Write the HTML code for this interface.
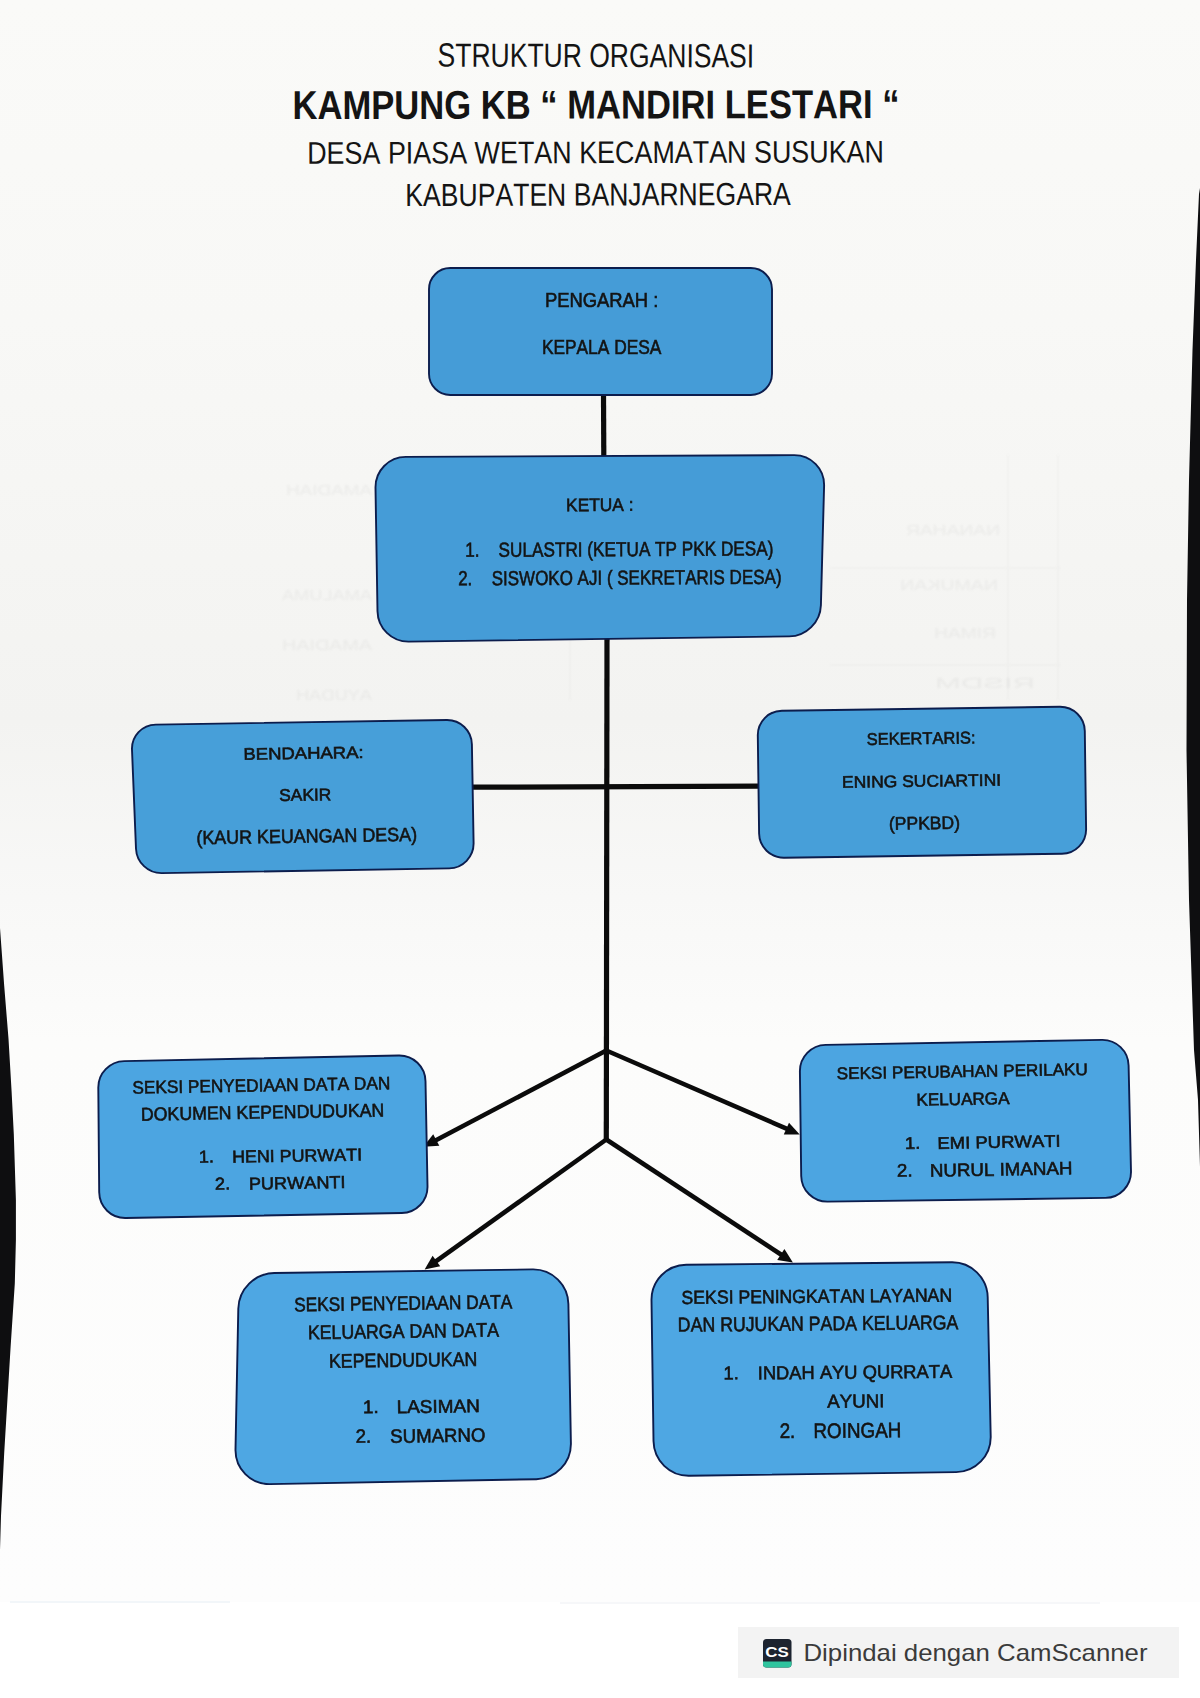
<!DOCTYPE html>
<html><head><meta charset="utf-8"><title>Struktur Organisasi</title>
<style>
html,body{margin:0;padding:0;background:#ffffff;}
body{width:1200px;height:1698px;overflow:hidden;position:relative;font-family:"Liberation Sans",sans-serif;}
svg{position:absolute;left:0;top:0;}
text{font-family:"Liberation Sans",sans-serif;fill:#141414;font-kerning:none;}
.bx{stroke:#141414;stroke-width:0.6px;}
</style></head><body>
<svg width="1200" height="1698" viewBox="0 0 1200 1698">
<defs><filter id="gb" x="-0.1" y="-0.3" width="1.2" height="1.6"><feGaussianBlur stdDeviation="0.9"/></filter><linearGradient id="pg" x1="0" y1="0" x2="0" y2="1602" gradientUnits="userSpaceOnUse">
<stop offset="0" stop-color="#fafaf8"/><stop offset="0.2" stop-color="#f8f8f6"/><stop offset="0.45" stop-color="#f3f3f1"/>
<stop offset="0.56" stop-color="#f8f8f7"/><stop offset="0.65" stop-color="#fcfcfb"/><stop offset="1" stop-color="#fdfdfd"/></linearGradient></defs>
<rect x="0" y="0" width="1200" height="1602" fill="url(#pg)"/>
<polygon points="1200.0,188.0 1199.0,194.0 1196.0,260.0 1192.5,350.0 1189.0,480.0 1187.0,600.0 1186.5,750.0 1189.0,900.0 1194.0,1050.0 1198.0,1100.0 1200.0,1167.0 1200.0,1167.0 1200.0,188.0" fill="#0e0e10"/>
<polygon points="0.0,928.0 4.2,985.8 8.5,1038.7 11.6,1091.6 13.8,1134.0 15.9,1200.0 15.9,1240.0 14.8,1283.5 10.6,1347.0 7.4,1400.0 4.2,1453.0 1.0,1516.0 0.0,1550.0 0.0,1550.0 0.0,928.0" fill="#0e0e10"/>
<g opacity="0.2" filter="url(#gb)" fill="#c4c4c2" font-size="15" style="font-family:'Liberation Sans',sans-serif">
<text x="-1000" y="535" transform="scale(-1,1)" textLength="94" lengthAdjust="spacingAndGlyphs" style="fill:#c4c4c2">NANAHAR</text>
<text x="-998" y="590" transform="scale(-1,1)" textLength="98" lengthAdjust="spacingAndGlyphs" style="fill:#c4c4c2">NAMUKAN</text>
<text x="-996" y="638" transform="scale(-1,1)" textLength="62" lengthAdjust="spacingAndGlyphs" style="fill:#c4c4c2">RIMAH</text>
<text x="-1035" y="688" transform="scale(-1,1)" textLength="100" lengthAdjust="spacingAndGlyphs" style="fill:#c4c4c2">RISDM</text>
<text x="-372" y="495" transform="scale(-1,1)" textLength="86" lengthAdjust="spacingAndGlyphs" style="fill:#c4c4c2">AMADIAH</text>
<text x="-372" y="600" transform="scale(-1,1)" textLength="90" lengthAdjust="spacingAndGlyphs" style="fill:#c4c4c2">AMALUMA</text>
<text x="-372" y="650" transform="scale(-1,1)" textLength="90" lengthAdjust="spacingAndGlyphs" style="fill:#c4c4c2">AMADIAH</text>
<text x="-372" y="700" transform="scale(-1,1)" textLength="76" lengthAdjust="spacingAndGlyphs" style="fill:#c4c4c2">AYUDAH</text>
</g>
<g opacity="0.15" filter="url(#gb)" stroke="#c8c8c6" stroke-width="1.2">
<line x1="1008" y1="455" x2="1008" y2="700"/><line x1="1058" y1="455" x2="1058" y2="700"/>
<line x1="830" y1="568" x2="1060" y2="568"/><line x1="830" y1="665" x2="1060" y2="665"/>
<line x1="570" y1="620" x2="570" y2="700"/>
</g>
<line x1="10" y1="1602" x2="230" y2="1602" stroke="#eef3f7" stroke-width="1.5"/><line x1="560" y1="1603" x2="1100" y2="1603" stroke="#f3f5f7" stroke-width="1.5"/>

<line x1="603.5" y1="393" x2="603.8" y2="456" stroke="#0b0b0b" stroke-width="5.2"/>
<line x1="607" y1="639" x2="606.3" y2="1141" stroke="#0b0b0b" stroke-width="5.2"/>
<line x1="472" y1="787.2" x2="759" y2="786.2" stroke="#0b0b0b" stroke-width="5.2"/>
<line x1="606.3" y1="1050.5" x2="434.5" y2="1141.0" stroke="#0b0b0b" stroke-width="4.6"/><polygon points="423.4,1146.8 433.2,1134.3 439.3,1145.8" fill="#0b0b0b"/>
<line x1="606.3" y1="1050.5" x2="788.2" y2="1129.4" stroke="#0b0b0b" stroke-width="4.6"/><polygon points="799.7,1134.4 783.8,1134.6 789.0,1122.7" fill="#0b0b0b"/>
<line x1="606.3" y1="1139.5" x2="434.8" y2="1262.1" stroke="#0b0b0b" stroke-width="4.6"/><polygon points="424.6,1269.4 432.6,1255.7 440.2,1266.3" fill="#0b0b0b"/>
<line x1="606.3" y1="1139.5" x2="782.5" y2="1255.5" stroke="#0b0b0b" stroke-width="4.6"/><polygon points="792.9,1262.4 777.2,1259.9 784.4,1249.0" fill="#0b0b0b"/>
<path d="M429.0 289.2 C429.0 277.5 438.5 268.0 450.2 268.0 L750.8 268.0 C762.5 268.0 772.0 277.5 772.0 289.2 L772.0 373.8 C772.0 385.5 762.5 395.0 750.8 395.0 L450.2 395.0 C438.5 395.0 429.0 385.5 429.0 373.8 Z" fill="#459cd7" stroke="#0c1d4d" stroke-width="1.9"/>
<path d="M375.5 487.8 C375.2 470.8 388.8 456.9 405.8 456.9 L794.2 455.1 C811.2 455.1 824.6 468.8 824.1 485.8 L820.9 605.2 C820.4 622.2 806.2 636.2 789.2 636.4 L408.8 641.6 C391.8 641.8 377.8 628.2 377.5 611.2 Z" fill="#459cd7" stroke="#0c1d4d" stroke-width="1.9"/>
<path d="M132.0 749.8 C131.4 736.1 142.1 724.8 155.8 724.6 L446.7 720.0 C460.4 719.8 471.7 730.7 471.9 744.4 L473.6 843.2 C473.8 856.9 462.9 868.2 449.2 868.4 L161.8 873.1 C148.1 873.3 136.6 862.4 136.0 848.7 Z" fill="#479fd9" stroke="#0c1d4d" stroke-width="1.9"/>
<path d="M757.8 735.5 C757.6 722.0 768.4 710.8 781.9 710.7 L1059.9 706.8 C1073.4 706.7 1084.6 717.5 1084.8 731.0 L1086.1 829.0 C1086.3 842.5 1075.5 853.7 1062.0 853.8 L784.0 857.7 C770.5 857.8 759.3 847.0 759.1 833.5 Z" fill="#479fd9" stroke="#0c1d4d" stroke-width="1.9"/>
<path d="M98.3 1087.8 C98.1 1073.3 109.7 1061.4 124.2 1061.1 L398.8 1055.5 C413.3 1055.2 425.2 1066.7 425.5 1081.2 L427.5 1186.3 C427.8 1200.8 416.3 1212.7 401.8 1213.0 L125.7 1218.0 C111.2 1218.3 99.4 1206.8 99.2 1192.3 Z" fill="#4ca5e1" stroke="#0c1d4d" stroke-width="1.9"/>
<path d="M799.9 1071.5 C799.7 1057.1 811.2 1045.2 825.6 1044.9 L1101.9 1039.9 C1116.3 1039.6 1128.3 1051.1 1128.6 1065.5 L1131.0 1171.4 C1131.3 1185.8 1119.9 1197.7 1105.5 1197.9 L827.7 1201.6 C813.3 1201.8 801.4 1190.3 801.2 1175.9 Z" fill="#4ca5e1" stroke="#0c1d4d" stroke-width="1.9"/>
<path d="M238.3 1308.7 C238.7 1289.3 254.8 1273.3 274.2 1273.0 L532.6 1269.4 C552.0 1269.1 568.1 1284.7 568.4 1304.1 L570.9 1443.4 C571.2 1462.8 555.7 1478.9 536.3 1479.2 L270.0 1484.1 C250.6 1484.4 235.1 1468.9 235.5 1449.5 Z" fill="#4ea7e3" stroke="#0c1d4d" stroke-width="1.9"/>
<path d="M651.5 1300.2 C651.2 1280.8 666.8 1264.9 686.2 1264.7 L951.8 1262.3 C971.2 1262.1 987.3 1277.8 987.7 1297.2 L990.7 1436.4 C991.1 1455.8 975.6 1471.8 956.2 1472.1 L689.2 1475.8 C669.8 1476.1 653.8 1460.5 653.5 1441.1 Z" fill="#4ea7e3" stroke="#0c1d4d" stroke-width="1.9"/>
<text x="437.60" y="66.60" font-size="33.58" textLength="316.55" lengthAdjust="spacingAndGlyphs" transform="rotate(0.15 438.8 67.0)">STRUKTUR ORGANISASI</text>
<text x="292.44" y="119.10" font-size="40.19" textLength="607.13" lengthAdjust="spacingAndGlyphs" font-weight="bold" transform="rotate(-0.10 294.8 119.5)">KAMPUNG KB “ MANDIRI LESTARI “</text>
<text x="307.19" y="163.80" font-size="31.25" textLength="576.80" lengthAdjust="spacingAndGlyphs" transform="rotate(-0.14 309.4 164.2)">DESA PIASA WETAN KECAMATAN SUSUKAN</text>
<text x="405.32" y="206.10" font-size="31.83" textLength="385.53" lengthAdjust="spacingAndGlyphs" transform="rotate(-0.19 407.5 206.5)">KABUPATEN BANJARNEGARA</text>
<text x="544.89" y="306.70" font-size="19.91" textLength="113.49" lengthAdjust="spacingAndGlyphs" class="bx">PENGARAH :</text>
<text x="541.88" y="353.60" font-size="19.77" textLength="119.46" lengthAdjust="spacingAndGlyphs" class="bx">KEPALA DESA</text>
<text x="566.08" y="511.20" font-size="18.17" textLength="67.51" lengthAdjust="spacingAndGlyphs" class="bx" transform="rotate(-0.30 567.5 510.9)">KETUA :</text>
<text x="498.62" y="556.80" font-size="20.35" textLength="274.84" lengthAdjust="spacingAndGlyphs" class="bx" transform="rotate(-0.30 499.4 556.5)">SULASTRI (KETUA TP PKK DESA)</text>
<text x="465.19" y="556.80" font-size="20.35" textLength="14.32" lengthAdjust="spacingAndGlyphs" class="bx" transform="rotate(-0.30 465.5 556.5)">1.</text>
<text x="491.73" y="585.30" font-size="20.35" textLength="289.83" lengthAdjust="spacingAndGlyphs" class="bx" transform="rotate(-0.30 492.5 585.0)">SISWOKO AJI ( SEKRETARIS DESA)</text>
<text x="458.15" y="585.30" font-size="20.35" textLength="14.17" lengthAdjust="spacingAndGlyphs" class="bx" transform="rotate(-0.30 458.0 585.0)">2.</text>
<text x="243.48" y="759.80" font-size="16.72" textLength="120.20" lengthAdjust="spacingAndGlyphs" class="bx" transform="rotate(-0.90 245.0 759.5)">BENDAHARA:</text>
<text x="279.21" y="801.00" font-size="17.01" textLength="52.20" lengthAdjust="spacingAndGlyphs" class="bx" transform="rotate(-0.90 280.0 800.7)">SAKIR</text>
<text x="196.49" y="844.30" font-size="19.19" textLength="220.62" lengthAdjust="spacingAndGlyphs" class="bx" transform="rotate(-0.90 197.6 844.0)">(KAUR KEUANGAN DESA)</text>
<text x="866.75" y="744.90" font-size="16.86" textLength="108.75" lengthAdjust="spacingAndGlyphs" class="bx" transform="rotate(-0.80 867.5 744.6)">SEKERTARIS:</text>
<text x="842.07" y="787.80" font-size="16.72" textLength="159.04" lengthAdjust="spacingAndGlyphs" class="bx" transform="rotate(-0.80 843.5 787.5)">ENING SUCIARTINI</text>
<text x="888.91" y="829.80" font-size="18.17" textLength="71.18" lengthAdjust="spacingAndGlyphs" class="bx" transform="rotate(-0.80 890.0 829.5)">(PPKBD)</text>
<text x="132.62" y="1093.70" font-size="18.02" textLength="257.78" lengthAdjust="spacingAndGlyphs" class="bx" transform="rotate(-1.00 133.4 1093.4)">SEKSI PENYEDIAAN DATA DAN</text>
<text x="140.94" y="1120.70" font-size="18.60" textLength="243.50" lengthAdjust="spacingAndGlyphs" class="bx" transform="rotate(-1.00 142.4 1120.4)">DOKUMEN KEPENDUDUKAN</text>
<text x="232.13" y="1162.70" font-size="17.30" textLength="130.01" lengthAdjust="spacingAndGlyphs" class="bx" transform="rotate(-1.00 233.6 1162.4)">HENI PURWATI</text>
<text x="199.04" y="1162.70" font-size="17.30" textLength="14.90" lengthAdjust="spacingAndGlyphs" class="bx" transform="rotate(-1.00 199.4 1162.4)">1.</text>
<text x="248.91" y="1189.70" font-size="17.30" textLength="96.76" lengthAdjust="spacingAndGlyphs" class="bx" transform="rotate(-1.00 250.4 1189.4)">PURWANTI</text>
<text x="215.09" y="1189.70" font-size="17.30" textLength="15.13" lengthAdjust="spacingAndGlyphs" class="bx" transform="rotate(-1.00 215.0 1189.4)">2.</text>
<text x="836.82" y="1079.30" font-size="16.86" textLength="251.10" lengthAdjust="spacingAndGlyphs" class="bx" transform="rotate(-1.00 837.6 1079.0)">SEKSI PERUBAHAN PERILAKU</text>
<text x="916.60" y="1105.70" font-size="17.30" textLength="92.93" lengthAdjust="spacingAndGlyphs" class="bx" transform="rotate(-1.00 918.0 1105.4)">KELUARGA</text>
<text x="937.48" y="1148.90" font-size="16.86" textLength="123.22" lengthAdjust="spacingAndGlyphs" class="bx" transform="rotate(-1.00 939.0 1148.6)">EMI PURWATI</text>
<text x="904.99" y="1148.90" font-size="16.86" textLength="15.42" lengthAdjust="spacingAndGlyphs" class="bx" transform="rotate(-1.00 905.4 1148.6)">1.</text>
<text x="929.96" y="1176.80" font-size="18.17" textLength="142.56" lengthAdjust="spacingAndGlyphs" class="bx" transform="rotate(-1.00 931.5 1176.5)">NURUL IMANAH</text>
<text x="897.06" y="1176.80" font-size="18.17" textLength="15.62" lengthAdjust="spacingAndGlyphs" class="bx" transform="rotate(-1.00 897.0 1176.5)">2.</text>
<text x="294.21" y="1311.40" font-size="19.62" textLength="218.12" lengthAdjust="spacingAndGlyphs" class="bx" transform="rotate(-0.80 295.0 1311.1)">SEKSI PENYEDIAAN DATA</text>
<text x="307.95" y="1339.20" font-size="19.62" textLength="191.09" lengthAdjust="spacingAndGlyphs" class="bx" transform="rotate(-0.80 309.4 1338.9)">KELUARGA DAN DATA</text>
<text x="328.94" y="1367.80" font-size="19.62" textLength="148.51" lengthAdjust="spacingAndGlyphs" class="bx" transform="rotate(-0.80 330.4 1367.5)">KEPENDUDUKAN</text>
<text x="396.64" y="1413.20" font-size="18.31" textLength="83.30" lengthAdjust="spacingAndGlyphs" class="bx" transform="rotate(-0.80 398.2 1412.9)">LASIMAN</text>
<text x="362.95" y="1413.20" font-size="18.31" textLength="15.83" lengthAdjust="spacingAndGlyphs" class="bx" transform="rotate(-0.80 363.4 1412.9)">1.</text>
<text x="390.25" y="1442.80" font-size="19.19" textLength="95.24" lengthAdjust="spacingAndGlyphs" class="bx" transform="rotate(-0.80 391.1 1442.5)">SUMARNO</text>
<text x="355.76" y="1442.80" font-size="19.19" textLength="15.54" lengthAdjust="spacingAndGlyphs" class="bx" transform="rotate(-0.80 355.7 1442.5)">2.</text>
<text x="681.60" y="1303.90" font-size="18.75" textLength="270.54" lengthAdjust="spacingAndGlyphs" class="bx" transform="rotate(-0.50 682.4 1303.6)">SEKSI PENINGKATAN LAYANAN</text>
<text x="677.85" y="1331.60" font-size="20.06" textLength="280.59" lengthAdjust="spacingAndGlyphs" class="bx" transform="rotate(-0.50 679.3 1331.3)">DAN RUJUKAN PADA KELUARGA</text>
<text x="757.81" y="1379.40" font-size="18.60" textLength="194.43" lengthAdjust="spacingAndGlyphs" class="bx" transform="rotate(-0.50 759.5 1379.1)">INDAH AYU QURRATA</text>
<text x="723.60" y="1379.40" font-size="18.60" textLength="15.28" lengthAdjust="spacingAndGlyphs" class="bx" transform="rotate(-0.50 724.0 1379.1)">1.</text>
<text x="827.26" y="1407.80" font-size="18.75" textLength="57.27" lengthAdjust="spacingAndGlyphs" class="bx" transform="rotate(-0.50 827.3 1407.5)">AYUNI</text>
<text x="813.46" y="1438.00" font-size="20.93" textLength="87.88" lengthAdjust="spacingAndGlyphs" class="bx" transform="rotate(-0.50 815.0 1437.7)">ROINGAH</text>
<text x="779.65" y="1438.00" font-size="20.93" textLength="15.70" lengthAdjust="spacingAndGlyphs" class="bx" transform="rotate(-0.50 779.6 1437.7)">2.</text>
<rect x="738" y="1627" width="441" height="51" fill="#f3f3f3"/>
<rect x="763" y="1639" width="28.5" height="28.5" rx="3.5" fill="#1d2430"/>
<path d="M763 1661.5 H791.5 V1664 Q791.5 1667.5 788 1667.5 H766.5 Q763 1667.5 763 1664 Z" fill="#2fc49e"/>
<text x="765.2" y="1657.2" font-size="14.5" font-weight="bold" style="fill:#ffffff" textLength="23.5" lengthAdjust="spacingAndGlyphs">CS</text>
<text x="803.5" y="1661" font-size="24" style="fill:#3b3b3b" textLength="344" lengthAdjust="spacingAndGlyphs">Dipindai dengan CamScanner</text>
</svg>
</body></html>
